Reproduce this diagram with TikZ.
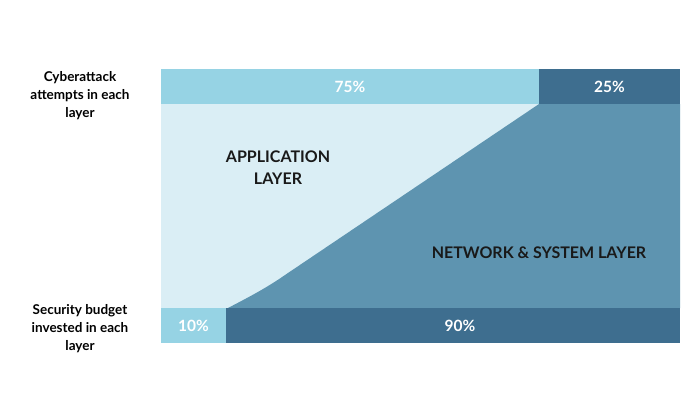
\documentclass[tikz,border=0pt]{standalone}
\usepackage{fontspec}
\setmainfont{Lato}
\definecolor{barlight}{RGB}{150,211,228}
\definecolor{bardark}{RGB}{62,110,143}
\definecolor{arealight}{RGB}{218,238,245}
\definecolor{areamid}{RGB}{94,148,176}
\begin{document}
\begin{tikzpicture}[x=1pt,y=-1pt,
  bar/.style={draw=none,inner sep=0pt,outer sep=0pt,minimum height=35pt,text=white,font=\fontsize{15.5}{17}\selectfont\bfseries},
  side/.style={align=center,font=\fontsize{13.5}{18}\selectfont\bfseries,text=black},
  layer/.style={align=center,font=\fontsize{16}{22}\selectfont\bfseries,text=black!90}]
\useasboundingbox (0,0) rectangle (700,400);
% areas
\fill[arealight] (161,104) rectangle (680,308);
\fill[areamid] (539,104) -- (680,104) -- (680,308) -- (228,308)
  .. controls (245,299) and (265,289) .. (285,275) -- cycle;
% top bars
\node[bar,fill=barlight,minimum width=378pt,anchor=north west] (t75) at (161,69) {};
\node[bar,fill=bardark,minimum width=141pt,anchor=north west] (t25) at (539,69) {};
\node[bar] (l75) at (350,86.5) {75\%};
\node[bar] (l25) at (609.5,86.5) {25\%};
% bottom bars
\node[bar,fill=barlight,minimum width=65pt,anchor=north west] (b10) at (161,308) {};
\node[bar,fill=bardark,minimum width=454pt,anchor=north west] (b90) at (226,308) {};
\node[bar] (l10) at (193.5,325.5) {10\%};
\node[bar] (l90) at (460,325.5) {90\%};
% layer labels
\node[layer] (app) at (278,168) {APPLICATION\\LAYER};
\node[layer] (net) at (539,253) {NETWORK \& SYSTEM LAYER};
% side labels
\node[side] (cyber) at (80,96) {Cyberattack\\attempts in each\\layer};
\node[side] (budget) at (80,329) {Security budget\\invested in each\\layer};
\end{tikzpicture}
\end{document}
